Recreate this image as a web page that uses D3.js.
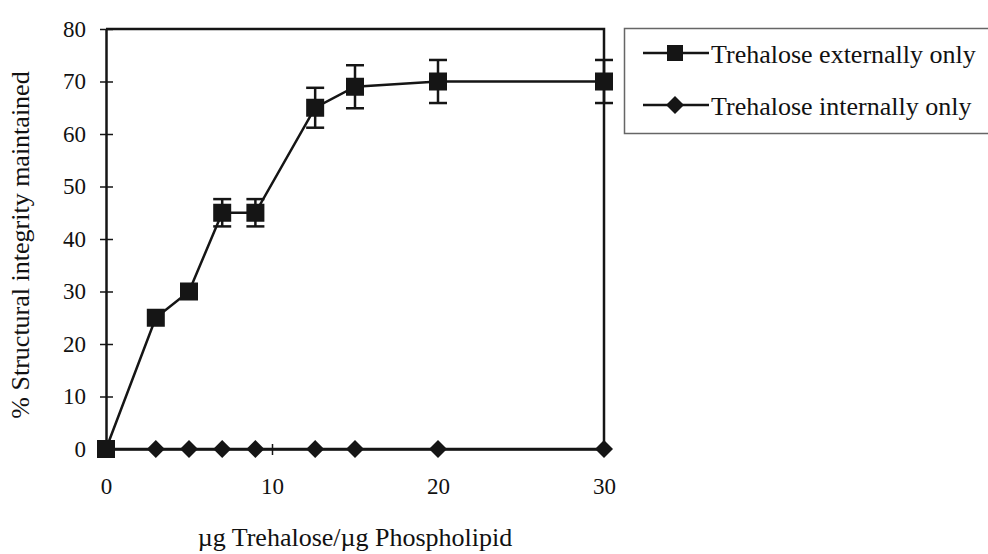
<!DOCTYPE html>
<html>
<head>
<meta charset="utf-8">
<script src="https://cdn.jsdelivr.net/npm/d3@7"></script>
<style>
  body { margin: 0; background: #fff; }
  text { font-family: "Liberation Serif", "Times New Roman", serif; fill: #111; }
</style>
</head>
<body>
<script>
'use strict';

const width = 988;
const height = 554;

// values
let xValues = [0, 3, 5, 7, 9, 12.6, 15, 20, 30];
let externalValues = [0, 25, 30, 45, 45, 65, 69, 70, 70];
let externalErrors = [0, 0, 0, 2.6, 2.6, 3.8, 4.1, 4.1, 4.1];
let internalValues = [0, 0, 0, 0, 0, 0, 0, 0, 0];
let yTicks = [0, 10, 20, 30, 40, 50, 60, 70, 80];
let xTicks = [0, 10, 20, 30];
let seriesNames = ['Trehalose externally only', 'Trehalose internally only'];

const plotLeft = 106;
const plotRight = 604;
const plotTop = 29;
const plotBottom = 449;

let svg = d3.select("body").append("svg").attr('width', width).attr('height', height);

let xScale = d3.scaleLinear().domain([0, 30]).range([plotLeft, plotRight]);
let yScale = d3.scaleLinear().domain([0, 80]).range([plotBottom, plotTop]);

const ink = "#151515";

// frame: top and right
svg.append("path")
    .attr("d", "M" + xScale(0) + "," + yScale(80) + "H" + xScale(30) + "V" + yScale(0))
    .attr("fill", "none")
    .attr("stroke", ink)
    .attr("stroke-width", 2.5);

// y axis
const yAxis = d3.axisLeft(yScale)
    .tickValues(yTicks)
    .tickSizeInner(0)
    .tickSizeOuter(0)
    .tickPadding(20)
    .tickFormat(d3.format('d'));

let yg = svg.append("g")
    .attr("transform", "translate(" + plotLeft + ",0)")
    .call(yAxis);
yg.select(".domain").attr("stroke", ink).attr("stroke-width", 2.5);
yg.selectAll(".tick line").attr("x1", -6).attr("x2", 7).attr("stroke", ink).attr("stroke-width", 1.5);
yg.selectAll(".tick text")
    .attr("font-size", 23)
    .attr("fill", ink);

// x axis
const xAxis = d3.axisBottom(xScale)
    .tickValues(xTicks)
    .tickSizeInner(0)
    .tickSizeOuter(0)
    .tickPadding(29)
    .tickFormat(d3.format('d'));

let xg = svg.append("g")
    .attr("transform", "translate(0," + plotBottom + ")")
    .call(xAxis);
xg.select(".domain").attr("stroke", ink).attr("stroke-width", 2.5);
xg.selectAll(".tick line").attr("y1", -5).attr("y2", 6).attr("stroke", ink).attr("stroke-width", 1.5);
xg.selectAll(".tick text")
    .attr("font-size", 23)
    .attr("fill", ink);

// axis titles
svg.append("text")
    .attr("transform", "translate(" + ((plotLeft + plotRight) / 2) + "," + 546 + ")")
    .attr("text-anchor", "middle")
    .attr("font-size", 26)
    .text("\u00b5g Trehalose/\u00b5g Phospholipid");

svg.append("text")
    .attr("transform", "translate(" + 29 + "," + 245 + ") rotate(-90)")
    .attr("text-anchor", "middle")
    .attr("font-size", 26)
    .text("% Structural integrity maintained");

// series lines
let line = d3.line().x(d => xScale(d[0])).y(d => yScale(d[1]));

let internalPts = xValues.map((x, i) => [x, internalValues[i]]);
let externalPts = xValues.map((x, i) => [x, externalValues[i]]);

svg.append("path")
    .datum(internalPts)
    .attr("d", line)
    .attr("fill", "none")
    .attr("stroke", ink)
    .attr("stroke-width", 2.5);

svg.append("path")
    .datum(externalPts)
    .attr("d", line)
    .attr("fill", "none")
    .attr("stroke", ink)
    .attr("stroke-width", 2.5);

// error bars
let errData = xValues.map((x, i) => ({ x: x, y: externalValues[i], e: externalErrors[i] }))
    .filter(d => d.e > 0);

let eg = svg.append("g").attr("stroke", ink).attr("stroke-width", 2.5);
eg.selectAll("line.v")
    .data(errData)
    .join("line")
    .attr("class", "v")
    .attr("x1", d => xScale(d.x))
    .attr("x2", d => xScale(d.x))
    .attr("y1", d => yScale(d.y + d.e))
    .attr("y2", d => yScale(d.y - d.e));
eg.selectAll("line.top")
    .data(errData)
    .join("line")
    .attr("class", "top")
    .attr("x1", d => xScale(d.x) - 9)
    .attr("x2", d => xScale(d.x) + 9)
    .attr("y1", d => yScale(d.y + d.e))
    .attr("y2", d => yScale(d.y + d.e));
eg.selectAll("line.bot")
    .data(errData)
    .join("line")
    .attr("class", "bot")
    .attr("x1", d => xScale(d.x) - 9)
    .attr("x2", d => xScale(d.x) + 9)
    .attr("y1", d => yScale(d.y - d.e))
    .attr("y2", d => yScale(d.y - d.e));

// markers
const diamond = "M0,-9L9,0L0,9L-9,0Z";
const sq = 18;

svg.append("g")
    .selectAll("path")
    .data(internalPts)
    .join("path")
    .attr("transform", d => "translate(" + xScale(d[0]) + "," + yScale(d[1]) + ")")
    .attr("d", diamond)
    .attr("fill", ink);

svg.append("g")
    .selectAll("rect")
    .data(externalPts)
    .join("rect")
    .attr("x", d => xScale(d[0]) - sq / 2)
    .attr("y", d => yScale(d[1]) - sq / 2)
    .attr("width", sq)
    .attr("height", sq)
    .attr("fill", ink);

// legend
let legend = svg.append("g").attr("transform", "translate(624,28)");
legend.append("rect")
    .attr("x", 0.5)
    .attr("y", 0.5)
    .attr("width", 380)
    .attr("height", 105)
    .attr("fill", "#fff")
    .attr("stroke", "#666")
    .attr("stroke-width", 1.5);

let rows = legend.selectAll("g.row")
    .data(seriesNames)
    .join("g")
    .attr("class", "row")
    .attr("transform", (d, i) => "translate(0," + (25 + i * 52) + ")");

rows.append("line")
    .attr("x1", 19)
    .attr("x2", 85)
    .attr("stroke", ink)
    .attr("stroke-width", 2.5);

rows.append("path")
    .attr("transform", "translate(51,0)")
    .attr("d", (d, i) => i === 0 ? "M-8,-8H8V8H-8Z" : diamond)
    .attr("fill", ink);

rows.append("text")
    .attr("x", 87)
    .attr("y", 10)
    .attr("font-size", 26)
    .text(d => d);
</script>
</body>
</html>
